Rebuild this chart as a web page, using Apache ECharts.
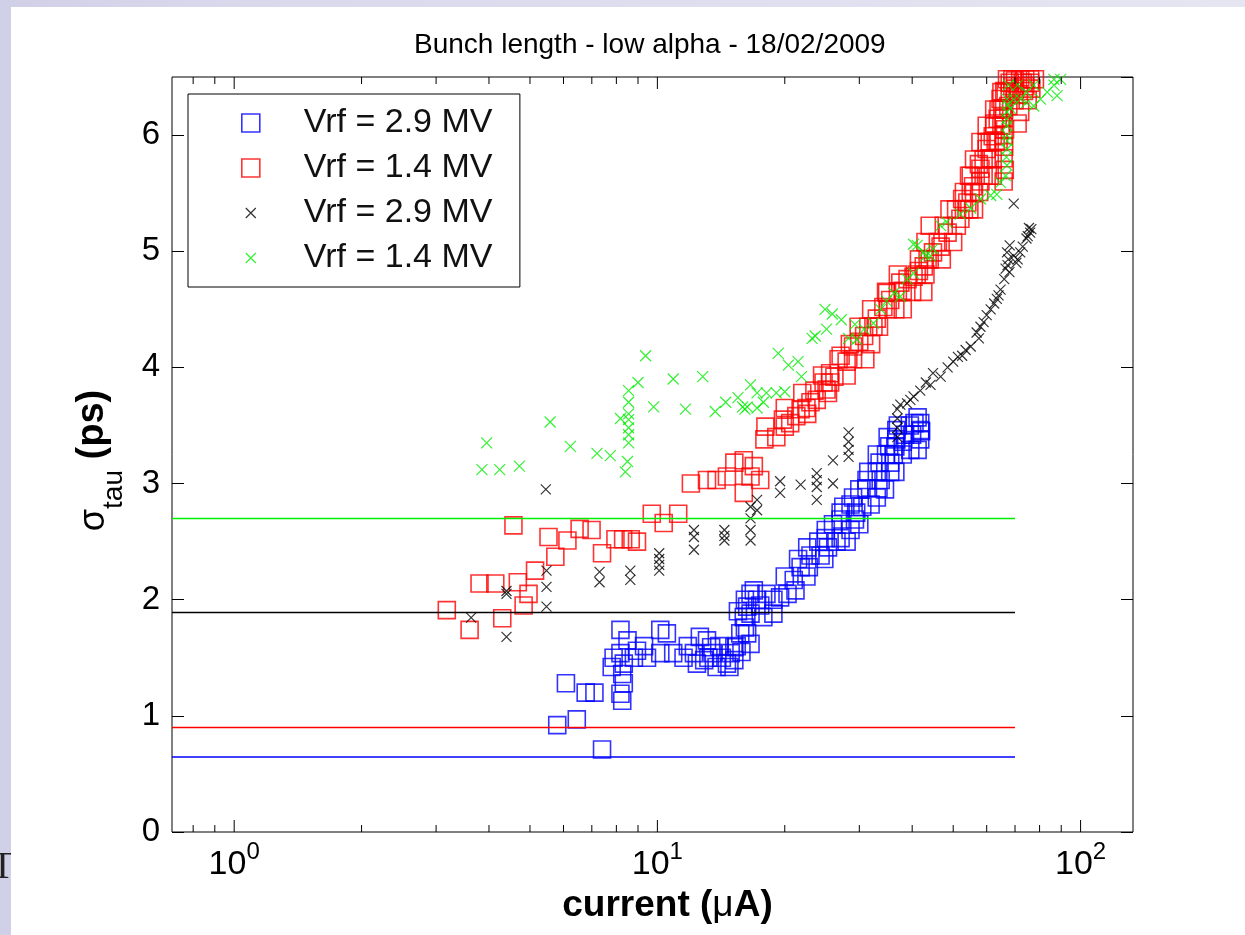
<!DOCTYPE html>
<html><head><meta charset="utf-8">
<script src="https://cdn.jsdelivr.net/npm/echarts@6/dist/echarts.min.js"></script>
<style>html,body{margin:0;padding:0;background:#fff}#c{width:1245px;height:935px}</style>
</head><body><div id="c"></div>
<script>
const titleText = 'Bunch length - low alpha - 18/02/2009';
const xName = ['current (', 'μ', 'A)'];
const yName = ['σ', 'tau', ' (ps)'];
const seriesNames = ['Vrf = 2.9 MV', 'Vrf = 1.4 MV', 'Vrf = 2.9 MV ', 'Vrf = 1.4 MV '];
const XMIN = 0.713, XMAX = 133, YMIN = 0, YMAX = 6.5, YSTEP = 1;
const xMajorTicks = [1, 10, 100];
const xMinorTicks = [0.8, 0.9, 2, 3, 4, 5, 6, 7, 8, 9, 20, 30, 40, 50, 60, 70, 80, 90];
// reference levels: blue, red, black, green
const refLevels = [0.645, 0.9, 1.89, 2.7];
const refLineEnd = 70;

const blueSquares = [
[7.4,0.71],[5.8,0.92],[6.45,0.97],[6.08,1.28],[6.77,1.2],[7.1,1.2],
[8.18,1.74],[8.5,1.65],[8.18,1.54],[8.33,1.45],[8.26,1.36],[8.33,1.28],[8.18,1.19],[8.26,1.13],[7.8,1.42],[7.88,1.5],
[8.8,1.5],[8.95,1.56],[9.45,1.5],[9.3,1.6],[10.16,1.54],[10.16,1.74],[10.53,1.71],[10.9,1.54],[11.53,1.5],[12.2,1.54],[12.9,1.48],[13.1,1.65],[13.5,1.54],[13.8,1.42],[14.2,1.5],[14.6,1.45],[14.9,1.54],[15.4,1.6],[15.7,1.71],[16.1,1.76],[16.0,1.85],[16.1,2.0],[16.6,2.05],[18.1,2.05],[18.8,2.0],[20.3,2.05],[18.8,1.88],[12.6,1.68],[13.4,1.59],[15.2,1.59],[16.3,1.71],[16.6,1.88],[16.3,1.94],[17.2,2.0],
[11.8,1.6],[12.4,1.45],[13.2,1.5],[14.0,1.6],[14.8,1.42],[15.2,1.48],[15.8,1.55],[16.6,1.62],[17.5,1.95],[17.8,1.85],[16.9,2.08],[15.5,1.9],
[19.5,2.02],[21.2,2.08],[21.0,2.17],[21.8,2.28],[22.8,2.28],[23.0,2.38],[24.3,2.38],[22.6,2.45],[25.3,2.45],[25.0,2.53],[27.1,2.53],[25.0,2.6],[28.6,2.6],[27.1,2.69],[29.3,2.69],[27.1,2.75],[29.5,2.75],[28.6,2.82],[31.9,2.82],[29.0,2.88],[33.0,2.88],[31.2,2.96],[33.3,2.96],[31.2,3.03],[33.7,3.03],[33.0,3.1],[35.5,3.1],[33.5,3.18],[35.5,3.18],[34.7,3.25],[36.2,3.25],[35.3,3.32],[36.5,3.32],[36.7,3.38],[41.8,3.38],[36.7,3.46],[41.8,3.46],[40.5,3.52],[41.8,3.52],[41.2,3.57],[38.5,3.42],[40.0,3.42],[39.6,3.29],[41.2,3.29],
[20.0,2.2],[22.5,2.2],[21.5,2.35],[24.8,2.35],[24.0,2.5],[26.5,2.5],[28.0,2.5],[26.0,2.65],[30.0,2.65],[27.5,2.8],[30.5,2.8],[30.0,2.95],[34.5,2.95],[31.5,3.1],[36.5,3.1],[33.0,3.25],[38.0,3.25],[35.0,3.4],[38.0,3.36],[37.0,3.5],[39.5,3.5],[42.0,3.45]
];

const redSquares = [
[3.18,1.91],[3.6,1.74],[4.3,1.84],[3.8,2.14],[4.14,2.14],[4.68,2.15],[4.83,1.95],[4.96,2.05],[5.14,2.25],[4.57,2.64],[5.53,2.54],[5.74,2.37],[6.13,2.51],[6.55,2.61],[6.99,2.6],[7.4,2.4],[7.96,2.52],[8.3,2.52],[8.65,2.52],[8.95,2.5],[9.7,2.74],[10.35,2.66],[11.2,2.74],[12.0,3.0],[13.1,3.03],[13.8,3.03],[14.6,3.06],[15.2,3.18],[16.0,3.2],[16.6,3.06],[17.5,3.03],[16.0,2.92],[16.9,3.15],[17.9,3.38],[19.1,3.4],[20.6,3.52],[21.3,3.58],[22.6,3.6],[23.8,3.72],[25.1,3.81],[25.6,3.87],[19.8,3.55],[21.8,3.64],[24.7,3.87],[25.6,3.95],[27.1,4.1],[29.0,4.18],[30.8,4.27],[32.4,4.35],[34.2,4.52],[34.9,4.64],[37.5,4.73],[40.3,4.78],[42.6,4.87],[44.8,4.99],[39.0,4.76],[43.5,4.93],[46.7,5.04],[48.5,5.16],[52.0,5.28],[54.0,5.42],[55.7,5.56],[58.0,5.71],[60.0,5.88],[62.0,5.99],[63.7,6.14],[64.7,6.31],
[23.0,3.7],[26.2,3.92],[28.0,4.05],[30.0,4.22],[33.0,4.42],[35.5,4.58],[36.5,4.5],[38.0,4.66],[41.5,4.83],
[18.0,3.49],[20.0,3.49],[20.0,3.65],[22.5,3.65],[22.0,3.78],[25.3,3.78],[23.5,3.8],[24.5,3.93],[28.0,3.93],[26.8,4.07],[29.0,4.07],[31.0,4.07],[28.5,4.2],[32.0,4.2],[29.9,4.35],[31.5,4.35],[33.4,4.35],[32.0,4.5],[35.0,4.5],[38.0,4.5],[34.7,4.65],[37.0,4.65],[40.0,4.65],[42.5,4.65],[37.0,4.8],[41.0,4.8],[43.0,4.8],[41.5,4.93],[44.0,4.93],[47.0,4.93],[43.0,5.08],[46.0,5.08],[50.0,5.08],[44.0,5.22],[47.5,5.22],[51.0,5.22],[49.0,5.36],[53.0,5.36],[56.0,5.36],[53.0,5.51],[55.0,5.51],[57.6,5.51],[55.0,5.65],[59.0,5.65],[61.0,5.65],[56.0,5.79],[59.0,5.79],[62.0,5.79],[58.0,5.94],[61.0,5.94],[64.0,5.94],[60.0,6.08],[62.5,6.08],[65.0,6.08],[62.5,6.22],[64.0,6.22],[66.0,6.22],[65.0,6.37],[66.5,6.37],[68.0,6.37],[69.0,6.48],[74.0,6.48],[76.0,6.48],
[50.8,5.36],[54.6,5.36],[52.5,5.45],[56.0,5.5],[54.5,5.65],[58.0,5.6],[62.0,5.65],[65.8,5.6],[57.5,5.75],[61.0,5.8],[65.8,5.8],[60.0,5.94],[63.0,5.95],[65.8,6.0],[62.5,6.1],[65.8,6.15],[65.3,6.23],[67.5,6.25],[69.8,6.3],[66.0,6.38],[70.0,6.4],[67.0,6.48],[72.0,6.48],[78.0,6.48],[74.0,6.42],[72.0,6.2],[75.0,6.3],[71.0,6.1],
[68.0,6.45],[70.0,6.47],[73.0,6.45],[76.0,6.45],[69.0,6.42],[71.5,6.35],[73.5,6.38],[76.5,6.4],[66.2,5.7],[66.0,5.9],[66.3,6.05]
];

const blackCrosses = [
[5.45,2.95],[4.4,2.075],[4.4,2.05],[3.63,1.845],[4.4,1.68],[5.47,2.25],[5.47,2.11],[5.47,1.94],[7.3,2.24],[7.3,2.15],[8.63,2.25],[8.63,2.17],[10.1,2.4],[10.1,2.35],[10.1,2.3],[10.1,2.25],[12.2,2.6],[12.2,2.54],[12.2,2.43],[14.4,2.6],[14.4,2.55],[14.4,2.51],[16.6,2.8],[16.6,2.7],[16.6,2.6],[16.6,2.51],[17.2,2.86],[17.2,2.77],[19.5,3.02],[19.5,2.92],[21.8,2.99],[23.8,3.09],[23.8,3.03],[23.8,2.97],[23.8,2.86],[26.0,3.2],[26.0,3.0],[28.3,3.44],[28.3,3.36],[28.3,3.29],[28.3,3.23],[36.9,3.4],[36.9,3.48],[36.9,3.56],[36.9,3.64],[37.5,3.68],[38.9,3.69],[39.6,3.72],[40.3,3.75],[41.8,3.8],[43.1,3.87],[44.2,3.85],[44.8,3.95],[46.7,3.92],[48.5,4.0],[50.0,4.05],[51.3,4.09],[53.5,4.15],[55.0,4.18],[56.8,4.3],[58.0,4.35],[59.0,4.39],[61.3,4.5],[62.5,4.55],[63.4,4.59],[64.7,4.67],[66.0,4.76],[67.0,4.99],[67.5,4.93],[67.9,4.82],[67.2,4.88],[69.5,4.96],[71.0,4.93],[72.0,4.99],[73.0,5.04],[74.5,5.11],[76.0,5.16],[76.5,5.19],[69.5,5.41],
[64.0,4.62],[66.5,4.85],[68.0,5.05],[70.5,4.9],[75.0,5.13],[75.5,5.2],[57.5,4.25],[60.0,4.45],[52.5,4.1]
];

const greenCrosses = [
[3.95,3.35],[3.85,3.12],[4.24,3.12],[4.72,3.15],[5.58,3.53],[6.23,3.32],[7.2,3.26],[7.74,3.24],[8.18,3.56],
[8.55,3.35],[8.55,3.42],[8.55,3.48],[8.55,3.55],[8.55,3.6],[8.55,3.7],[8.55,3.8],[8.5,3.19],[8.4,3.1],
[9.0,3.87],[9.38,4.1],[9.8,3.66],[10.9,3.9],[11.65,3.64],[12.8,3.92],[13.7,3.62],[14.5,3.7],[15.5,3.74],[15.9,3.66],[16.6,3.85],[17.2,3.78],[17.8,3.7],[18.1,3.78],[19.1,3.78],[20.0,3.79],[16.3,3.66],[17.2,3.65],[16.1,3.64],
[19.3,4.12],[20.4,4.02],[21.5,4.05],[21.9,3.92],[23.2,4.25],[23.6,4.27],[25.1,4.33],[24.9,4.5],[25.9,4.46],[27.2,4.41],[29.3,4.37],[30.8,4.33],[32.4,4.38],[28.3,4.25],[29.6,4.24],[33.7,4.5],[34.8,4.57],[36.2,4.64],[37.5,4.61],[38.9,4.76],[40.3,4.81],[41.1,5.05],[43.1,4.96],[44.8,5.02],[40.3,5.06],[42.6,4.99],[44.2,4.96],[46.7,5.22],[48.3,5.25],[52.0,5.32],[55.0,5.37],[58.0,5.45],[61.3,5.48],[63.4,5.49],[66.5,5.65],[64.7,5.59],
[67.0,5.74],[67.0,5.88],[67.0,6.0],[67.0,6.08],[67.0,6.2],[67.0,6.31],[67.5,6.43],[71.0,6.43],[74.5,6.37],[77.5,6.43],[72.0,6.31],[74.5,6.28],[77.5,6.25],[80.4,6.31],[83.4,6.37],[86.5,6.43],[88.0,6.34],[86.5,6.48],[89.7,6.48],[69.5,6.31],[68.3,6.23],
[66.8,5.81],[67.1,5.95],[66.9,6.14],[67.2,6.26]
];

const FONT = '"Liberation Sans", Arial, Helvetica, sans-serif';
const SQUARE = 'path://M0,0H10V10H0Z';
const CROSS = 'path://M0,0L10,10M0,10L10,0';
const CROSS_LEGEND = 'path://M-4,-4M14,14M0,0L10,10M0,10L10,0';
const NOFILL = 'rgba(0,0,0,0)';
const colors = {blue:'#0000ff', red:'#ff0000', black:'#000000', green:'#00ee00'};

function scatter(name, data, symbol, size, color, bw) {
  return {type:'scatter', name:name, data:data, symbol:symbol, symbolSize:size, clip:false,
    itemStyle:{color:NOFILL, borderColor:color, borderWidth:bw}, emphasis:{disabled:true}, silent:true};
}
function refLine(level, color) {
  return {type:'line', data:[[XMIN, level],[refLineEnd, level]], showSymbol:false, symbol:'none',
    lineStyle:{color:color, width:1.5}, silent:true, z:3};
}

const chart = echarts.init(document.getElementById('c'));
const lineColors = [colors.blue, colors.red, colors.black, colors.green];
chart.setOption({
  animation:false,
  backgroundColor:{type:'linear', x:0, y:0, x2:1, y2:0, colorStops:[{offset:0,color:'#cfcfe7'},{offset:0.16,color:'#d8d8ec'},{offset:1,color:'#e6e5f2'}]},
  graphic:[
    {type:'text', x:-9, y:849, z:-110, style:{text:'T', font:'38px "Liberation Serif", "DejaVu Serif", serif', fill:'#222'}},
    {type:'rect', x:11, y:7, z:-100, shape:{width:1240, height:935}, style:{fill:'#ffffff'}}
  ],
  title:{text:titleText, left:414, top:31, padding:0,
    textStyle:{fontFamily:FONT, fontSize:28, fontWeight:'normal', color:'#000'}},
  grid:{left:172, right:112, top:77, bottom:103, show:true, borderColor:'#000', borderWidth:1, backgroundColor:'#fff'},
  legend:{orient:'vertical', left:188, top:94, padding:[11,18,11,53], itemGap:9, itemWidth:96, itemHeight:18,
    backgroundColor:'#fff', borderColor:'#000', borderWidth:1, borderRadius:0, selectedMode:false,
    textStyle:{fontFamily:FONT, fontSize:34, color:'#111', lineHeight:36},
    data:[
      {name:seriesNames[0], icon:SQUARE, itemStyle:{color:NOFILL, borderColor:colors.blue, borderWidth:1.6}},
      {name:seriesNames[1], icon:SQUARE, itemStyle:{color:NOFILL, borderColor:colors.red, borderWidth:1.6}},
      {name:seriesNames[2], icon:CROSS_LEGEND, itemStyle:{color:NOFILL, borderColor:colors.black, borderWidth:1.2}},
      {name:seriesNames[3], icon:CROSS_LEGEND, itemStyle:{color:NOFILL, borderColor:colors.green, borderWidth:1.2}}
    ]},
  xAxis:{type:'log', logBase:10, min:XMIN, max:XMAX,
    axisLine:{show:false}, axisTick:{show:false}, splitLine:{show:false}, minorTick:{show:false},
    name:'{a|' + xName[0] + '}{m|' + xName[1] + '}{a|' + xName[2] + '}', nameLocation:'middle', nameGap:49,
    nameTextStyle:{padding:[0,0,0,30], rich:{a:{fontFamily:FONT, fontSize:37, fontWeight:'bold', color:'#000'}, m:{fontFamily:FONT, fontSize:37, color:'#000'}}},
    axisLabel:{margin:8, fontSize:33, fontFamily:FONT, color:'#000',
      formatter:function(v){ const l = Math.log10(v); const e = Math.round(l); if (Math.abs(l - e) > 1e-6) return ''; return '{b|10}{s|' + e + '}'; },
      rich:{b:{fontSize:34, fontFamily:FONT, color:'#000', lineHeight:42, verticalAlign:'bottom'},
            s:{fontSize:24, fontFamily:FONT, color:'#000', lineHeight:24, verticalAlign:'top'}}}
  },
  yAxis:[
    {type:'value', min:YMIN, max:YMAX, interval:YSTEP, position:'left',
      axisLine:{show:false}, splitLine:{show:false},
      axisTick:{show:true, inside:true, length:12, lineStyle:{color:'#000', width:1}},
      axisLabel:{margin:12, fontSize:33, fontFamily:FONT, color:'#000', showMaxLabel:false},
      name:'{s|' + yName[0] + '}{t|' + yName[1] + '}{p|' + yName[2] + '}', nameLocation:'middle', nameRotate:90, nameGap:44,
      nameTextStyle:{rich:{
        s:{fontFamily:FONT, fontSize:36, color:'#000', lineHeight:40, padding:[0,0,16,0], verticalAlign:'bottom'},
        t:{fontFamily:FONT, fontSize:28, color:'#000', lineHeight:28, verticalAlign:'bottom'},
        p:{fontFamily:FONT, fontSize:38, fontWeight:'bold', color:'#000', lineHeight:40, padding:[0,12,16,0], verticalAlign:'bottom'}}}
    },
    {type:'value', min:YMIN, max:YMAX, interval:YSTEP, position:'right',
      axisLine:{show:false}, splitLine:{show:false}, axisLabel:{show:false},
      axisTick:{show:true, inside:true, length:12, lineStyle:{color:'#000', width:1}}}
  ],
  series:[
    scatter(seriesNames[0], blueSquares, SQUARE, 17, colors.blue, 1.6),
    scatter(seriesNames[1], redSquares, SQUARE, 17, colors.red, 1.6),
    scatter(seriesNames[2], blackCrosses, CROSS, 10, colors.black, 1.2),
    scatter(seriesNames[3], greenCrosses, CROSS, 11, colors.green, 1.2),
    ...refLevels.map(function(l, i){ return refLine(l, lineColors[i]); }),
    {type:'custom', silent:true, clip:false, z:6,
      data: xMajorTicks.map(function(v){return [v, 1];}).concat(xMinorTicks.map(function(v){return [v, 0];})),
      encode:{x:0},
      renderItem:function(params, api){
        const v = api.value(0), major = api.value(1);
        const b = api.coord([v, YMIN]), t = api.coord([v, YMAX]);
        const len = major ? 12 : 7;
        const st = {stroke:'#000', lineWidth:1};
        return {type:'group', children:[
          {type:'line', shape:{x1:b[0], y1:b[1], x2:b[0], y2:b[1]-len}, style:st},
          {type:'line', shape:{x1:t[0], y1:t[1], x2:t[0], y2:t[1]+len}, style:st}
        ]};
      }}
  ]
});
</script></body></html>
